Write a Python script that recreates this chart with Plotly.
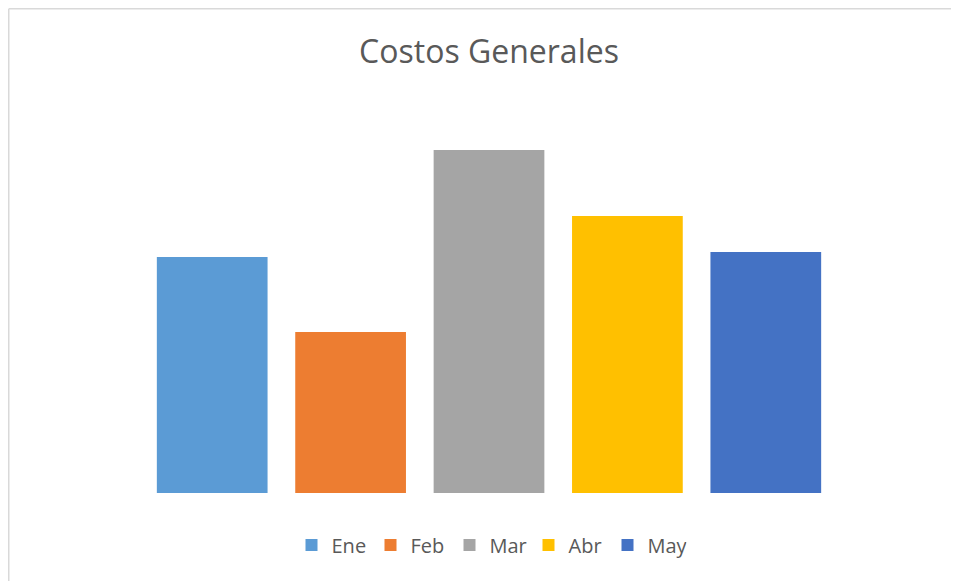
import plotly.graph_objects as go

categories = ["Ene", "Feb", "Mar", "Abr", "May"]
values = [236, 161, 343, 277, 241]
colors = ["#5B9BD5", "#ED7D31", "#A5A5A5", "#FFC000", "#4472C4"]

fig = go.Figure()
for cat, val, col in zip(categories, values, colors):
    fig.add_trace(go.Bar(x=[cat], y=[val], name=cat, marker=dict(color=col, line=dict(width=0))))

# page body has an 8px margin, so the figure is sized/offset to compensate
OFF = 8
W, H = 959 - OFF, 581 - OFF
ml, mr, mt, mb = 143 - OFF, 124, 143 - OFF, 88
pw = W - ml - mr
ph = H - mt - mb

bx0 = (0.75 - ml) / pw
by0 = (H - mb - 0.75) / ph
fig.update_layout(
    width=W, height=H,
    margin=dict(l=ml, r=mr, t=mt, b=mb),
    paper_bgcolor="white", plot_bgcolor="white",
    barmode="overlay", bargap=0.2,
    font=dict(family="Open Sans, Lato, sans-serif", color="#595959"),
    title=dict(text="Costos Generales", x=(489 - OFF) / W, xanchor="center", y=1 - (52 - OFF) / H,
               yanchor="middle", font=dict(size=32, color="#595959")),
    xaxis=dict(showticklabels=False, showgrid=False, zeroline=False, showline=False, categoryorder="array",
               categoryarray=categories),
    yaxis=dict(range=[0, 350], showticklabels=False, showgrid=False, zeroline=False, showline=False),
    showlegend=True,
    legend=dict(orientation="h", x=(489 - OFF - ml) / pw, xanchor="center", y=(493 - 545) / ph,
                yanchor="middle", font=dict(size=20, color="#595959"), itemclick=False,
                entrywidth=34, entrywidthmode="pixels"),
    shapes=[
        dict(type="line", xref="paper", yref="paper", x0=bx0, x1=bx0, y0=by0, y1=-(mb + 20) / ph,
             line=dict(color="#D9D9D9", width=1.5), layer="below"),
        dict(type="line", xref="paper", yref="paper", x0=bx0, x1=(W + 20 - ml) / pw, y0=by0, y1=by0,
             line=dict(color="#D9D9D9", width=1.5), layer="below"),
    ],
)

fig.write_html("out.html")
